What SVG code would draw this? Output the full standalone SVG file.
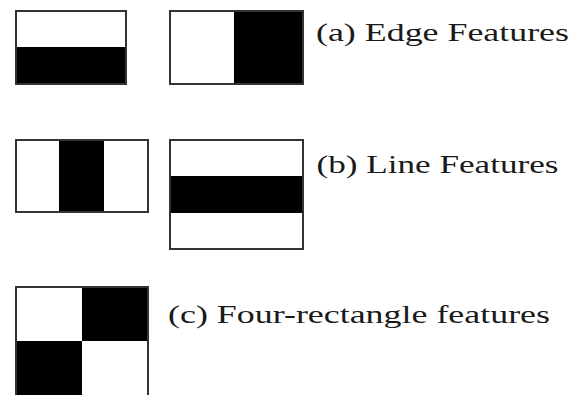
<svg xmlns="http://www.w3.org/2000/svg" width="573" height="395" viewBox="0 0 573 395">
<style>
.frame{fill:none;stroke:#333;stroke-width:2}
.blk{fill:#000}
.lbl{font-family:"Liberation Serif","Times New Roman",serif;font-size:25px;fill:#1a1a1a}
</style>
<rect width="573" height="395" fill="#fff"/>
<g id="edge-horizontal">
<rect class="blk" x="16" y="47" width="110" height="37"/>
<rect class="frame" x="16" y="11" width="110" height="73"/>
</g>
<g id="edge-vertical">
<rect class="blk" x="234" y="11" width="69" height="73"/>
<rect class="frame" x="170" y="11" width="133" height="73"/>
</g>
<g id="line-vertical">
<rect class="blk" x="59" y="140" width="45" height="72"/>
<rect class="frame" x="16" y="140" width="132" height="72"/>
</g>
<g id="line-horizontal">
<rect class="blk" x="170" y="176" width="133" height="37"/>
<rect class="frame" x="170" y="140" width="133" height="109"/>
</g>
<g id="four-rect">
<rect class="blk" x="82" y="287" width="66" height="54"/>
<rect class="blk" x="16" y="341" width="66" height="56"/>
<rect class="frame" x="16" y="287" width="132" height="110"/>
</g>
<g id="labels">
<text class="lbl" x="316" y="41" textLength="253" lengthAdjust="spacingAndGlyphs">(a) Edge Features</text>
<text class="lbl" x="316.5" y="172.5" textLength="242" lengthAdjust="spacingAndGlyphs">(b) Line Features</text>
<text class="lbl" x="168" y="322.5" textLength="382" lengthAdjust="spacingAndGlyphs">(c) Four-rectangle features</text>
</g>
<g id="connectors"></g>
</svg>
